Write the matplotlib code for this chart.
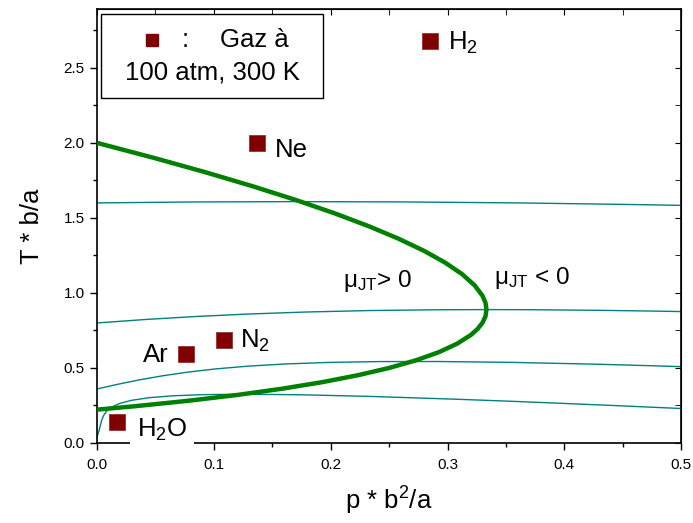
import numpy as np
import matplotlib.pyplot as plt
from matplotlib.patches import Rectangle
from matplotlib.ticker import MultipleLocator

plt.rcParams['font.family'] = ['Liberation Sans', 'DejaVu Sans']
plt.rcParams['mathtext.fontset'] = 'custom'
plt.rcParams['mathtext.rm'] = 'Liberation Sans'
plt.rcParams['mathtext.it'] = 'Liberation Sans:italic'

# inversion curve (p*b^2/a, T*b/a)
inv_p = [0.0, 0.0481, 0.0925, 0.1331, 0.17, 0.2031, 0.2325, 0.2581, 0.28, 0.2981,
         0.3125, 0.3231, 0.33, 0.3325, 0.3333, 0.3325, 0.33, 0.3258, 0.32, 0.3081,
         0.2925, 0.2731, 0.25, 0.2231, 0.1925, 0.1581, 0.12, 0.0781, 0.0325, 0.0]
inv_T = [2.0, 1.9013, 1.805, 1.7113, 1.62, 1.5313, 1.445, 1.3613, 1.28, 1.2013,
         1.125, 1.0513, 0.98, 0.9339, 0.8889, 0.845, 0.8022, 0.7606, 0.72, 0.6613,
         0.605, 0.5513, 0.5, 0.4513, 0.405, 0.3613, 0.32, 0.2813, 0.245, 0.2222]

# isenthalps
h1_p = [0.0, 0.082, 0.1687, 0.261, 0.36, 0.4669, 0.5]
h1_T = [1.6, 1.6062, 1.6085, 1.6066, 1.6, 1.5882, 1.5836]
h2_p = [0.0, 0.0408, 0.0836, 0.1291, 0.1782, 0.2316, 0.2905, 0.3333, 0.37, 0.4295, 0.4781, 0.5]
h2_T = [0.8, 0.8227, 0.8426, 0.8593, 0.8727, 0.8824, 0.8878, 0.8889, 0.8882, 0.8842, 0.8788, 0.8758]
h3_p = [0.0, 0.0181, 0.0368, 0.0566, 0.0782, 0.1022, 0.1295, 0.161, 0.1979, 0.2413,
        0.2929, 0.3542, 0.4275, 0.4782, 0.5]
h3_T = [0.36, 0.3918, 0.4213, 0.4484, 0.4727, 0.4941, 0.5122, 0.5266, 0.5368, 0.5425,
        0.5429, 0.5373, 0.525, 0.514, 0.5087]
h4_p = [0.0, 0.0016, 0.0028, 0.0039, 0.0055, 0.0081, 0.0124, 0.0193, 0.0295, 0.0441,
        0.0643, 0.0915, 0.1275, 0.1742, 0.2341, 0.3102, 0.3555, 0.4062, 0.4511, 0.5]
h4_T = [0.04, 0.0784, 0.1149, 0.1495, 0.1818, 0.2118, 0.239, 0.2633, 0.2842, 0.3014,
        0.3143, 0.3224, 0.325, 0.3213, 0.3103, 0.2909, 0.2776, 0.2615, 0.2466, 0.2297]

# gases at 100 atm, 300 K
gas_names = ['H$_2$', 'Ne', 'N$_2$', 'Ar', 'H$_2$O']
gas_p = [0.285, 0.137, 0.109, 0.076, 0.017]
gas_T = [2.68, 2.0, 0.687, 0.593, 0.14]

fig = plt.figure(figsize=(6.93, 5.23), dpi=100)
ax = fig.add_axes([0.140, 0.153, 0.843, 0.830])

teal = '#008080'
for px, ty in [(h1_p, h1_T), (h2_p, h2_T), (h3_p, h3_T), (h4_p, h4_T)]:
    ax.plot(px, ty, color=teal, lw=1.0, zorder=2)
ax.plot(inv_p, inv_T, color='#008000', lw=3.2, zorder=3, solid_capstyle='butt')

ax.plot(gas_p, gas_T, 's', color='#800000', ms=12, mec='#9a3030', mew=0.6, zorder=4,
        linestyle='none')

fs = 18.5
ax.text(0.3005, 2.665, gas_names[0], fontsize=fs, va='center', ha='left')
ax.text(0.152, 1.95, gas_names[1], fontsize=fs, va='center', ha='left')
ax.text(0.1224, 0.68, gas_names[2], fontsize=fs, va='center', ha='left')
ax.text(0.0615, 0.587, gas_names[3], fontsize=fs, va='center', ha='right')
ax.text(0.0342, 0.085, gas_names[4], fontsize=fs, va='center', ha='left', zorder=6,
        clip_on=False, bbox=dict(facecolor='white', edgecolor='none', pad=5.0))

ax.text(0.2106, 1.08, 'μ$_{\\mathrm{JT}}$> 0', fontsize=17.5, va='center', ha='left')
ax.text(0.340, 1.10, 'μ$_{\\mathrm{JT}}$ < 0', fontsize=17.5, va='center', ha='left')

# legend box
ax.add_patch(Rectangle((0.007, 0.795), 0.38, 0.1935, transform=ax.transAxes,
                       facecolor='white', edgecolor='black', lw=1.0, zorder=5))
ax.plot([0.094], [0.9286], 's', color='#800000', ms=9, transform=ax.transAxes, zorder=6)
ax.text(0.151, 0.9286, ':', fontsize=fs, transform=ax.transAxes, ha='center', va='center', zorder=6)
ax.text(0.27, 0.9286, 'Gaz à', fontsize=fs, transform=ax.transAxes, ha='center', va='center', zorder=6)
ax.text(0.197, 0.8525, '100 atm, 300 K', fontsize=fs, transform=ax.transAxes,
        ha='center', va='center', zorder=6)

ax.set_xlim(0, 0.5)
ax.set_ylim(0, 2.893)
ax.xaxis.set_major_locator(MultipleLocator(0.1))
ax.xaxis.set_minor_locator(MultipleLocator(0.05))
ax.yaxis.set_major_locator(MultipleLocator(0.5))
ax.yaxis.set_minor_locator(MultipleLocator(0.25))
ax.xaxis.set_major_formatter(plt.FormatStrFormatter('%.1f'))
ax.yaxis.set_major_formatter(plt.FormatStrFormatter('%.1f'))
ax.tick_params(which='both', direction='out', top=False, right=False, labelsize=11)
ax.tick_params(which='major', length=5, width=1)
ax.tick_params(which='minor', length=3, width=1)
ax.tick_params(axis='x', which='major', pad=6)
ax.tick_params(axis='y', which='major', pad=4)
ax2 = ax.secondary_xaxis('top')
ax2.xaxis.set_major_locator(MultipleLocator(0.1))
ax2.xaxis.set_minor_locator(MultipleLocator(0.05))
ax2.tick_params(which='both', direction='in', labeltop=False, length=4)
ax3 = ax.secondary_yaxis('right')
ax3.yaxis.set_major_locator(MultipleLocator(0.5))
ax3.yaxis.set_minor_locator(MultipleLocator(0.25))
ax3.tick_params(which='both', direction='in', labelright=False, length=4)
for s in ax.spines.values():
    s.set_linewidth(1.2)

ax.set_xlabel('p * b$^2$/a', fontsize=18.5, labelpad=9)
ax.set_ylabel('T * b/a', fontsize=18.5, labelpad=14)

fig.savefig('out.png', dpi=100)
